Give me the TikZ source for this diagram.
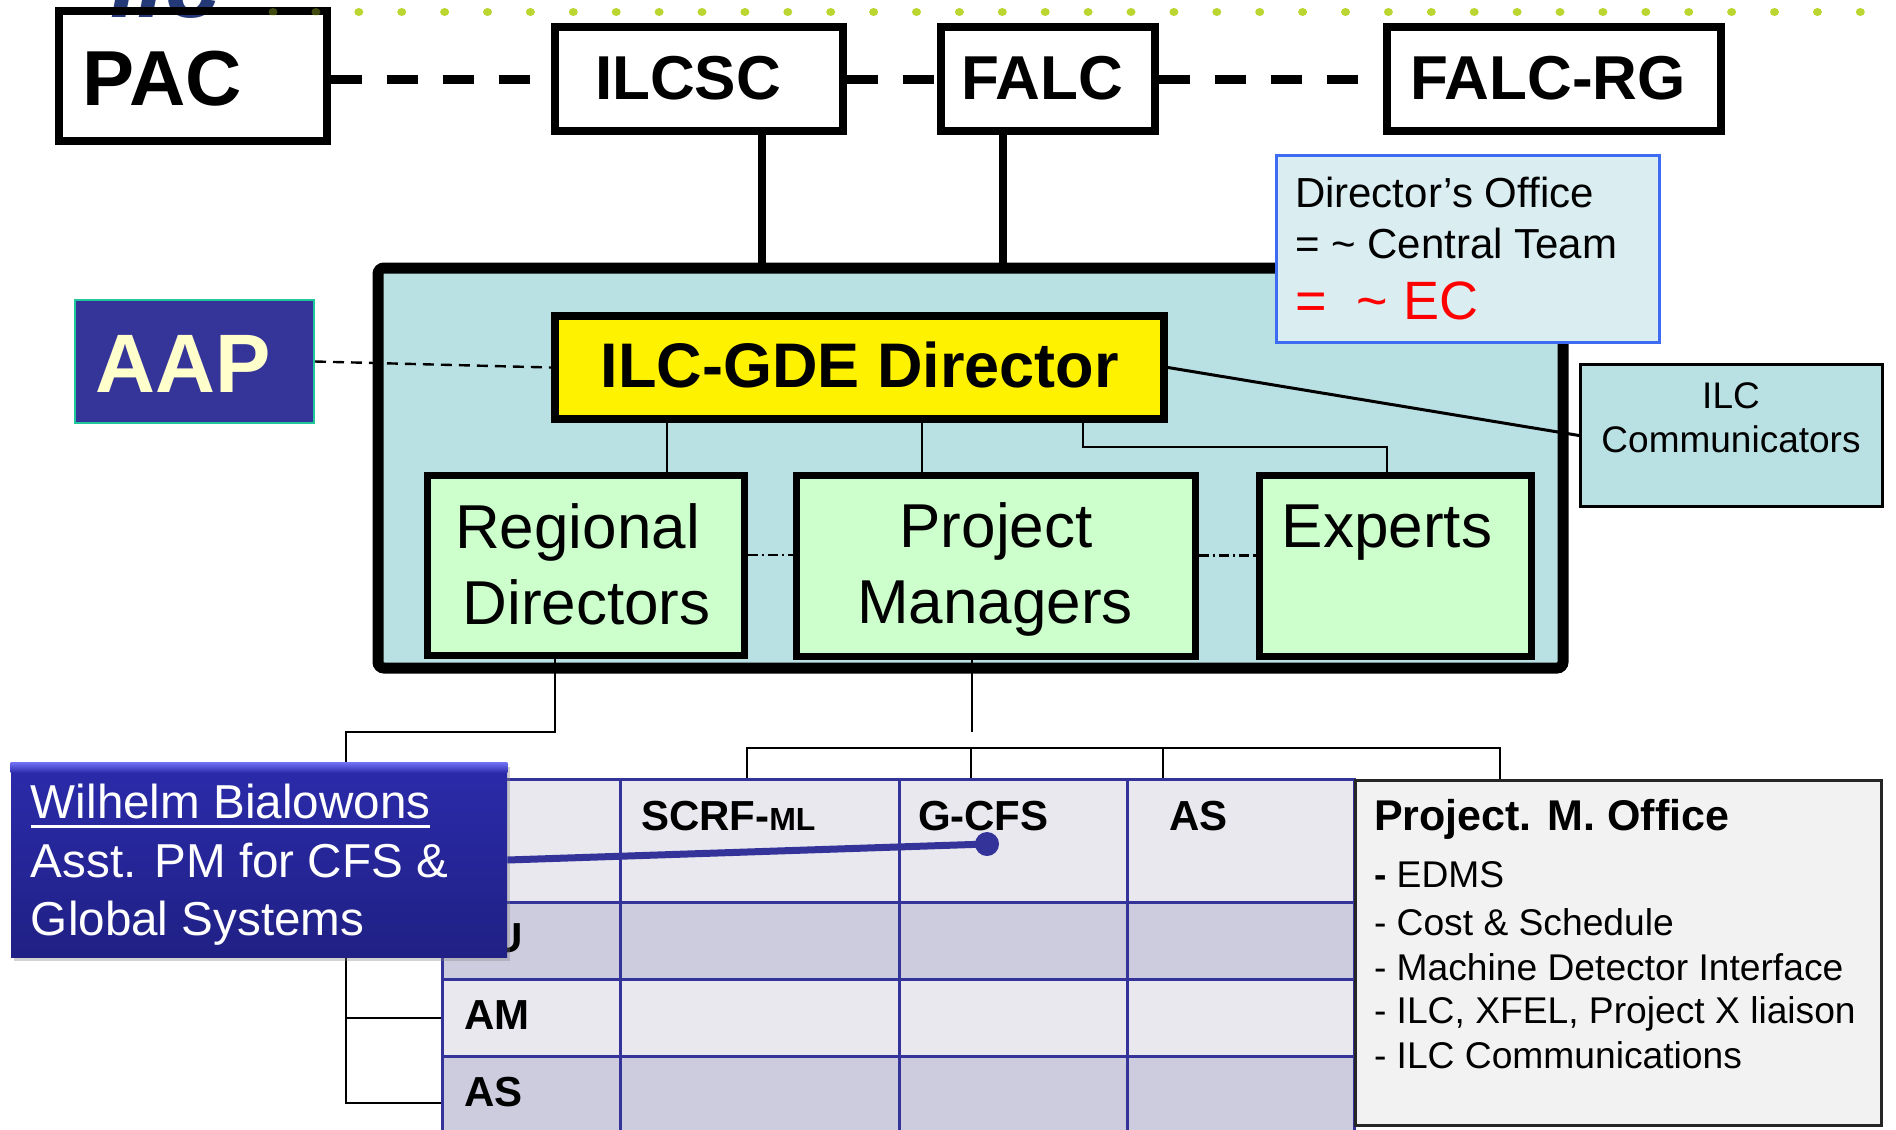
\documentclass[tikz,border=0pt]{standalone}
\usepackage{fontspec}
\setmainfont{Liberation Sans}
\usetikzlibrary{shadows,calc}
\newcommand{\px}{0.5pt}
\newcommand{\myfs}[1]{\fontsize{#1}{#1}\selectfont}
\definecolor{mainblue}{HTML}{B9E0E3}
\definecolor{boxgreen}{HTML}{CCFFCC}
\definecolor{dirfill}{HTML}{DAEEF2}
\definecolor{dirblue}{HTML}{3D6CF2}
\definecolor{aapblue}{HTML}{353599}
\definecolor{aapborder}{HTML}{1FC79A}
\definecolor{aaptext}{HTML}{FFFFCC}
\definecolor{tblblue}{HTML}{333399}
\definecolor{tlight}{HTML}{E8E8EE}
\definecolor{tdark}{HTML}{CDCCDF}
\definecolor{pmofill}{HTML}{F2F2F2}
\definecolor{dotgreen}{HTML}{BCD631}
\definecolor{logonavy}{HTML}{243A78}
\definecolor{wtop}{HTML}{2B2BAB}
\definecolor{wbot}{HTML}{202085}
\definecolor{wbevel}{HTML}{7070F5}
\definecolor{ecred}{HTML}{FF0000}
\begin{document}
\begin{tikzpicture}[x=0.5pt,y=-0.5pt,
  txt/.style={inner sep=0pt, outer sep=0pt},
  topbox/.style={draw=black, line width=4pt, inner sep=0pt},
  grnbox/.style={draw=black, line width=3.5pt, fill=boxgreen, inner sep=0pt},
  thickdash/.style={line width=4.5pt, dash pattern=on 15.5pt off 12.5pt},
  thinline/.style={line width=1pt},
  dashdotline/.style={line width=1.1pt, dash pattern=on 5pt off 2pt on 1.2pt off 2pt},
  cell/.style={draw=tblblue, line width=1.5pt, inner sep=0pt},
  bigtxt/.style={txt, anchor=base, font={\myfs{31}\bfseries}},
  grntxt/.style={txt, anchor=base, font={\myfs{31}}},
  tbltxt/.style={txt, anchor=base west, font={\myfs{21}\bfseries}},
  pmotxt/.style={txt, anchor=base west, font={\myfs{18.6}}},
  wtxt/.style={txt, anchor=base west, text=white, font={\myfs{23.8}}},
]
\useasboundingbox (0,0) rectangle (1896,1130);
\clip (0,0) rectangle (1896,1130);
\fill[white] (0,0) rectangle (1896,1130);

% logo remnant
\node[txt, anchor=base west, text=logonavy, font={\myfs{50}\bfseries\itshape}] (logo) at (110,17) {ilc};

% top row boxes
\node[topbox, minimum width=268*\px, minimum height=130*\px] (PAC) at (193,76) {};
\node[txt, anchor=base west, font={\myfs{39}\bfseries}] (PACt) at (83,105) {PAC};
\node[topbox, minimum width=288*\px, minimum height=104*\px] (ILCSC) at (699,79) {};
\node[bigtxt] (ILCSCt) at (688,99) {ILCSC};
\node[topbox, minimum width=214*\px, minimum height=104*\px] (FALC) at (1048,79) {};
\node[bigtxt] (FALCt) at (1042,99) {FALC};
\node[topbox, minimum width=334*\px, minimum height=104*\px] (FALCRG) at (1554,79) {};
\node[bigtxt] (FALCRGt) at (1548,99) {FALC-RG};

% dotted green line
\foreach \k in {0,...,37} {
  \pgfmathsetmacro{\op}{\k<2 ? 0.35 : 1}
  \fill[dotgreen, opacity=\op] ({273+\k*42.9},12) ellipse [x radius=2.25pt, y radius=2pt];
}

\draw[thickdash] (PAC.east |- ILCSC.west) -- (ILCSC.west);
\draw[thickdash] (ILCSC.east) -- (FALC.west);
\draw[thickdash] (FALC.east) -- (FALCRG.west);

% main box
\node[draw=black, line width=5.5pt, fill=mainblue, rounded corners=3pt, minimum width=1185*\px, minimum height=400*\px, inner sep=0pt] (main) at (970.5,468) {};
\draw[line width=4pt] ([xshift=63*\px]ILCSC.south) -- ([xshift=63*\px]ILCSC.south |- main.north);
\draw[line width=4pt] ([xshift=-45*\px]FALC.south) -- ([xshift=-45*\px]FALC.south |- main.north);

% Director's office
\node[draw=dirblue, line width=1.5pt, fill=dirfill, minimum width=383*\px, minimum height=187*\px, inner sep=0pt] (DO) at (1468,249) {};
\node[txt, anchor=base west, font={\myfs{21}}] (DO1) at (1295,207) {Director’s Office};
\node[txt, anchor=base west, font={\myfs{21}}] (DO2) at (1295,258) {= \textasciitilde{} Central Team};
\node[txt, anchor=base west, text=ecred, font={\myfs{27}}] (DO3) at (1295,319) {=\ \ \textasciitilde{} EC};

% director
\node[draw=black, line width=4pt, fill=yellow, minimum width=609*\px, minimum height=103*\px, inner sep=0pt] (Dir) at (859.5,367.5) {};
\node[txt, anchor=base, font={\myfs{31.5}\bfseries}] (Dirt) at (860,387) {ILC-GDE Director};

% green boxes
\node[grnbox, minimum width=317*\px, minimum height=180*\px] (Reg) at (585.5,565) {};
\node[grntxt] (Reg1) at (577.5,548) {Regional};
\node[grntxt] (Reg2) at (586.5,624) {Directors};
\node[grnbox, minimum width=399*\px, minimum height=181*\px] (PM) at (995.5,565.5) {};
\node[grntxt] (PM1) at (996,547) {Project};
\node[grntxt] (PM2) at (995,623) {Managers};
\node[grnbox, minimum width=272*\px, minimum height=181*\px] (Exp) at (1395,565.5) {};
\node[grntxt] (Exp1) at (1387,547) {Experts};

\draw[thinline] ([xshift=81.5*\px]Reg.north) -- ([xshift=81.5*\px]Reg.north |- Dir.south);
\draw[thinline] ([xshift=-73.5*\px]PM.north) -- ([xshift=-73.5*\px]PM.north |- Dir.south);
\draw[thinline] ([xshift=223.5*\px]Dir.south) -- ++(0,24) -| ([xshift=-8*\px]Exp.north);
\draw[dashdotline] ([yshift=10*\px]Reg.east) -- ([yshift=10*\px]Reg.east -| PM.west);
\draw[dashdotline] ([yshift=10*\px]PM.east) -- ([yshift=10*\px]PM.east -| Exp.west);

% ILC communicators
\node[draw=black, line width=1.5pt, fill=mainblue, minimum width=302*\px, minimum height=142*\px, inner sep=0pt] (Comm) at (1731.5,435.5) {};
\node[txt, anchor=base, font={\myfs{18.5}}] (Comm1) at (1731,408) {ILC};
\node[txt, anchor=base, font={\myfs{18.5}}] (Comm2) at (1731,452) {Communicators};
\draw[line width=1.5pt] (Dir.east) -- (Comm.west);

% AAP
\node[draw=aapborder, line width=1pt, fill=aapblue, minimum width=239*\px, minimum height=123*\px, inner sep=0pt] (AAP) at (194.5,361.5) {};
\node[txt, anchor=base, text=aaptext, font={\myfs{41.5}\bfseries}] (AAPt) at (183.5,392) {AAP};
\draw[line width=1.2pt, dash pattern=on 5.5pt off 3.5pt] (AAP.east) -- (Dir.west);

% table
\foreach \i/\ya/\yb/\col in {1/779/902/tlight, 2/902/979/tdark, 3/979/1056/tlight, 4/1056/1150/tdark} {
  \foreach \j/\xa/\xb in {1/442/620, 2/620/899, 3/899/1127, 4/1127/1354} {
    \node[cell, fill=\col, minimum width=(\xb-\xa)*\px, minimum height=(\yb-\ya)*\px] (c\i\j) at ({(\xa+\xb)/2},{(\ya+\yb)/2}) {};
  }
}
\node[tbltxt] (hSCRF) at (641,830) {SCRF-{\myfs{16}ML}};
\node[tbltxt] (hGCFS) at (918,830) {G-CFS};
\node[tbltxt] (hAS) at (1169,830) {AS};
\node[tbltxt] (rEU) at (464,952) {EU};
\node[tbltxt] (rAM) at (464,1029) {AM};
\node[tbltxt] (rAS) at (464,1106) {AS};

% Project M. Office
\node[draw=black!85, line width=1.5pt, fill=pmofill, minimum width=526*\px, minimum height=345*\px, inner sep=0pt] (PMO) at (1618.5,953) {};
\node[txt, anchor=base west, font={\myfs{21.5}\bfseries}] (PMOt) at (1374,830) {Project. M. Office};
\node[pmotxt] (p1) at (1374,887) {\textbf{-} EDMS};
\node[pmotxt] (p2) at (1374,935) {- Cost \& Schedule};
\node[pmotxt] (p3) at (1374,980) {- Machine Detector Interface};
\node[pmotxt] (p4) at (1374,1023) {- ILC, XFEL, Project X liaison};
\node[pmotxt] (p5) at (1374,1068) {- ILC Communications};

% lower trees
\coordinate (rtree) at (346,732);
\draw[thinline] ([xshift=-30.5*\px]Reg.south) |- (rtree) -- (rtree |- c41.west);
\draw[thinline] (rtree) |- (c21.west);
\draw[thinline] (rtree) |- (c31.west);
\draw[thinline] (rtree) |- (c41.west);
\coordinate (pmend) at (972,732);
\draw[thinline] (PM.south -| pmend) -- (pmend);
\coordinate (bus) at (971,748);
\draw[thinline] ([xshift=-12.5*\px]c12.north) |- ([xshift=-118.5*\px]PMO.north |- bus) -- ([xshift=-118.5*\px]PMO.north);
\draw[thinline] ([xshift=-42*\px]c13.north) -- ([xshift=-42*\px]c13.north |- bus);
\draw[thinline] ([xshift=-77.5*\px]c14.north) -- ([xshift=-77.5*\px]c14.north |- bus);

% Wilhelm box
\node[minimum width=496*\px, minimum height=194*\px, inner sep=0pt, top color=wtop, bottom color=wbot, drop shadow={shadow xshift=1.5pt, shadow yshift=-2pt, opacity=0.35}] (W) at (259,860) {};
\shade[top color=wbevel, bottom color=wtop] (W.north west) rectangle ([yshift=-5pt]W.north east);
\node[wtxt] (W1) at (31,818) {Wilhelm Bialowons};
\draw[white, line width=1.5pt] ([yshift=-4pt]W1.base west) -- ([yshift=-4pt]W1.base east);
\node[wtxt] (W2) at (31,877) {Asst. PM for CFS \&};
\node[wtxt] (W3) at (31,935) {Global Systems};
\node[circle, fill=tblblue, minimum size=12pt, inner sep=0pt] (gdot) at (987,844) {};
\draw[tblblue, line width=3.5pt] (W.east) -- (gdot.center);
\end{tikzpicture}
\end{document}
